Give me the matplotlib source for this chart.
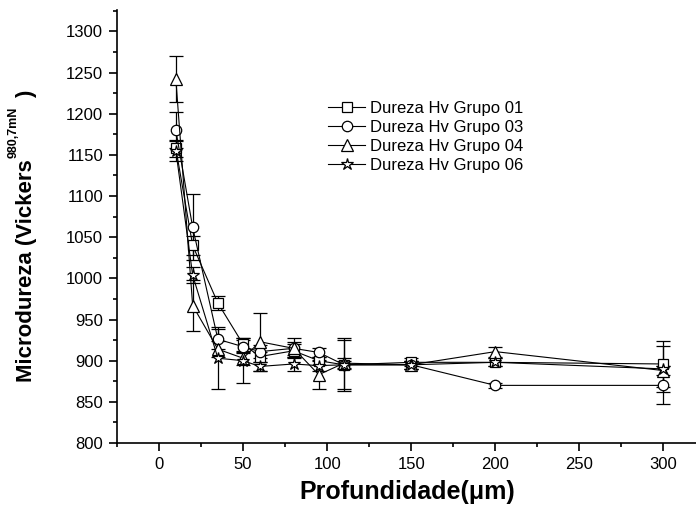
import matplotlib.pyplot as plt
from matplotlib.lines import Line2D
from matplotlib.ticker import MultipleLocator

plt.rcParams['font.family'] = ['Liberation Sans', 'DejaVu Sans']

# Depth of indentation (um)
depth = [10, 20, 35, 50, 60, 80, 95, 110, 150, 200, 300]

# Microhardness per group and its error bars
g01 = [1158, 1040, 970, 920, 905, 912, 900, 895, 898, 898, 896]
g01_err = [10, 12, 8, 8, 6, 8, 5, 5, 5, 5, 28]
g03 = [1180, 1062, 926, 917, 911, 915, 910, 895, 895, 870, 870]
g03_err = [22, 40, 12, 8, 8, 8, 6, 30, 5, 3, 23]
g04 = [1242, 967, 914, 903, 923, 915, 883, 897, 895, 911, 888]
g04_err = [28, 31, 10, 8, 35, 12, 18, 6, 5, 6, 5]
g06 = [1155, 1004, 903, 900, 893, 896, 894, 895, 895, 898, 890]
g06_err = [12, 10, 38, 27, 6, 8, 6, 32, 5, 5, 28]

labels = ['Dureza Hv Grupo 01', 'Dureza Hv Grupo 03',
          'Dureza Hv Grupo 04', 'Dureza Hv Grupo 06']

fig = plt.figure(figsize=(6.96, 5.13), dpi=100)
ax = fig.add_axes([117 / 696, 70 / 513, 580 / 696, 433 / 513])

series = [(g01, g01_err, 's', 6.5), (g03, g03_err, 'o', 7.5),
          (g04, g04_err, '^', 9), (g06, g06_err, '*', 9)]
handles = []
for (vals, err, mk, ms), lab in zip(series, labels):
    ax.errorbar(depth, vals, yerr=err, color='black', lw=0.8, elinewidth=0.9,
                capsize=5, capthick=0.9, marker=mk, markersize=ms,
                markerfacecolor='white', markeredgecolor='black',
                markeredgewidth=0.9)
    # legend entries without the error bar
    handles.append(Line2D([], [], color='black', lw=0.8, marker=mk, markersize=ms,
                          markerfacecolor='white', markeredgecolor='black',
                          markeredgewidth=0.9, label=lab))

ax.set_xlim(-25, 320)
ax.set_ylim(800, 1326)
ax.xaxis.set_major_locator(MultipleLocator(50))
ax.xaxis.set_minor_locator(MultipleLocator(25))
ax.yaxis.set_major_locator(MultipleLocator(50))
ax.yaxis.set_minor_locator(MultipleLocator(25))
ax.spines['top'].set_visible(False)
ax.spines['right'].set_visible(False)
for s in ['left', 'bottom']:
    ax.spines[s].set_linewidth(1.2)
ax.tick_params(which='major', direction='out', length=6, width=1.2, labelsize=12, pad=4)
ax.tick_params(which='minor', direction='out', length=3, width=1.2)

ax.set_xlabel('Profundidade(\u03bcm)', fontsize=18, fontweight='bold', labelpad=6)

# y label with superscript, placed by hand
fig.text(27 / 696, 131 / 513, 'Microdureza (Vickers', rotation=90, fontsize=16,
         fontweight='bold', ha='center', va='bottom')
fig.text(14 / 696, 355 / 513, '980,7mN', rotation=90, fontsize=9,
         fontweight='bold', ha='center', va='bottom')
fig.text(27 / 696, 415 / 513, ')', rotation=90, fontsize=16,
         fontweight='bold', ha='center', va='bottom')

ax.legend(handles=handles, loc='upper left', bbox_to_anchor=(0.35, 0.81),
          frameon=False, fontsize=12, handlelength=2.2, handletextpad=0.3,
          labelspacing=0.25, borderpad=0, numpoints=1)

fig.savefig('out.png', dpi=100)
